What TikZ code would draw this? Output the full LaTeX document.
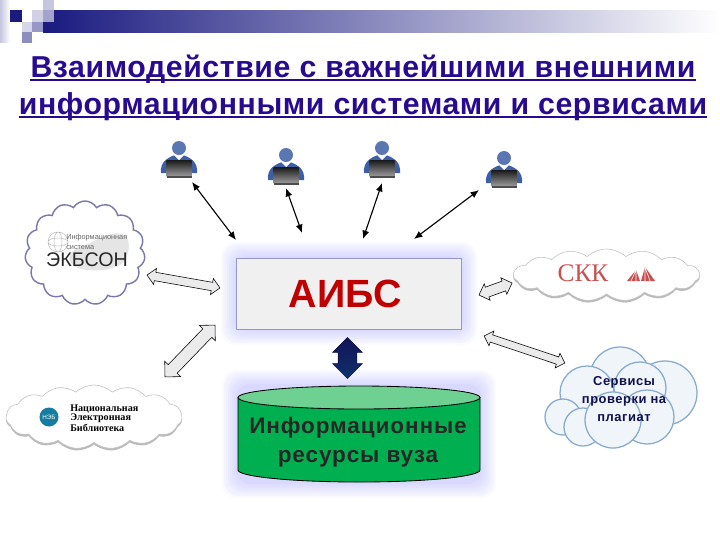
\documentclass[tikz,border=0pt]{standalone}
\usepackage{fontspec}
\setmainfont{Liberation Sans}
\newfontfamily\titlefont[LetterSpace=2]{Liberation Sans}
\newfontfamily\dbfont[LetterSpace=4]{Liberation Sans}
\newfontfamily\skkfont{Liberation Serif}
\usepackage{tikz}
\usetikzlibrary{shapes.geometric,shapes.symbols,shapes.arrows,shadows,arrows.meta,calc,positioning}
\definecolor{navyblue}{RGB}{26,26,128}
\definecolor{titleblue}{RGB}{40,10,145}
\definecolor{aibsred}{RGB}{192,0,0}
\definecolor{skkred}{RGB}{200,80,80}
\definecolor{nebteal}{RGB}{20,125,160}
\definecolor{dbgreen}{RGB}{0,176,80}
\definecolor{dbtop}{RGB}{110,208,145}
\definecolor{boxline}{RGB}{150,150,200}
\definecolor{cloudline}{RGB}{120,120,170}
\definecolor{plagline}{RGB}{135,170,205}
\definecolor{plagfill}{RGB}{240,245,250}
\definecolor{userblue}{RGB}{62,95,165}
\definecolor{glowblue}{RGB}{120,120,255}
\tikzset{
  titletext/.style={font=\titlefont\bfseries\fontsize{21.5}{25}\selectfont,text=titleblue,inner sep=0,anchor=base},
  titlerule/.style={titleblue,line width=1.5pt},
  thinarrow/.style={thick,{Latex[length=6pt,width=5pt]}-{Latex[length=6pt,width=5pt]}},
  blockarrow/.style={shape=double arrow,draw=black,fill=black!8,line width=0.4pt,inner xsep=0,anchor=center},
  whitecloud/.style={shape=cloud,cloud puffs=15,cloud puff arc=85,aspect=2.8,draw=black!25,fill=white,inner sep=0,
    drop shadow={shadow xshift=0pt,shadow yshift=-1.5pt,opacity=.45,fill=black!60}},
  plagcloud/.style={draw=plagline,line width=0.9pt,fill=plagfill},
  pics/user/.style={code={
    \fill[userblue] (-18,25) .. controls (-19,14) and (-12,10) .. (-4,7) -- (4,7) .. controls (12,10) and (19,14) .. (18,25) -- cycle;
    \fill[white] (-5,7) -- (5,7) -- (0,12) -- cycle;
    \fill[userblue!85!white] (0,0) circle (7);
    \shade[top color=black!90,bottom color=black!40] (-12.5,12) rectangle (12.5,28);
    \fill[black!70] (-12.5,28) rectangle (12.5,30);
  }}
}
\begin{document}
\begin{tikzpicture}[x=0.025cm,y=-0.025cm]
  \useasboundingbox (0,0) rectangle (720,540);
  % header bar
  \shade[left color=navyblue,right color=white] (43,10) rectangle (720,32);
  \shade[left color=navyblue!25,right color=white] (0,0) rectangle (10,42);
  \fill[navyblue] (10,10) rectangle (22,22);
  \fill[navyblue!20] (32,10) rectangle (43,22);
  \fill[navyblue!25] (43,0) rectangle (54,10);
  \fill[navyblue!40] (43,10) rectangle (54,22);
  \fill[navyblue!18] (22,22) rectangle (32,32);
  \fill[navyblue!45] (32,22) rectangle (43,32);
  \fill[navyblue!50] (22,32) rectangle (32,43);
  % title
  \node[titletext] (title1) at (363,77) {Взаимодействие с важнейшими внешними};
  \node[titletext] (title2) at (363,114) {информационными системами и сервисами};
  \draw[titlerule] ($(title1.base west)+(0,3)$) -- ($(title1.base east)+(0,3)$);
  \draw[titlerule] ($(title2.base west)+(0,3)$) -- ($(title2.base east)+(0,3)$);
  % users
  \pic at (179,148) {user};
  \pic at (286,155) {user};
  \pic at (382,148) {user};
  \pic at (504,158) {user};
  \coordinate (user1) at (192,182);
  \coordinate (user2) at (286,188);
  \coordinate (user3) at (382,183);
  \coordinate (user4) at (479,190);
  \coordinate (aibs1) at (236,240);
  \coordinate (aibs2) at (302,233);
  \coordinate (aibs3) at (363,239);
  \coordinate (aibs4) at (414,239);
  \draw[thinarrow] (user1) -- (aibs1);
  \draw[thinarrow] (user2) -- (aibs2);
  \draw[thinarrow] (user3) -- (aibs3);
  \draw[thinarrow] (user4) -- (aibs4);
  % glow round the box and the database
  \foreach \g in {16,14,...,2}{
    \fill[glowblue,opacity=.04,rounded corners=10] (237-\g,258-\g) rectangle (461+\g,329+\g);
    \fill[glowblue,opacity=.04,rounded corners=10] (238-\g,386-\g) rectangle (480+\g,482+\g);
  }
  % main box
  \node[draw=boxline,line width=0.7pt,fill=black!6,minimum width=5.6cm,minimum height=1.775cm,inner sep=0,
    font=\bfseries\fontsize{28}{32}\selectfont,text=aibsred] (aibs) at (349,293.5) {\kern-5.6ptАИБС};
  % database
  \draw[fill=dbgreen,line width=0.6pt] (238,397.5) -- (238,470) arc[start angle=180,end angle=0,x radius=121,y radius=12] -- (480,397.5) -- cycle;
  \draw[fill=dbtop,line width=0.6pt] (359,397.5) ellipse [x radius=121,y radius=11.5];
  \node[font=\dbfont\bfseries\fontsize{16}{21}\selectfont,align=center,text=black!85] (dbtext) at (358,442) {Информационные\\ресурсы вуза};
  % clouds
  \node[shape=cloud,cloud puffs=15,cloud puff arc=120,aspect=1.25,draw=cloudline,line width=1pt,fill=white,
    minimum width=3cm,minimum height=2.6cm,inner sep=0] (ekbson) at (85,253) {};
  \fill[black!10] plot[smooth cycle,tension=.8] coordinates {(72,252) (90,243) (112,234) (127,238) (126,258) (112,268) (88,270) (72,264)};
  \draw[black!30,line width=0.3pt] (58,242) circle (10) (58,242) ellipse [x radius=10,y radius=4] (58,242) ellipse [x radius=4,y radius=10];
  \node[inner sep=0,font=\fontsize{5.2}{7}\selectfont,text=black!60,align=left,anchor=west] (ekbsonsub) at (66,242) {Информационная\\система};
  \node[inner sep=0,font=\fontsize{14}{16}\selectfont,text=black!85] (ekbsonname) at (87,260) {ЭКБСОН};
  \node[whitecloud,minimum width=4.4cm,minimum height=1.6cm] (neb) at (94,417) {};
  \node[circle,fill=nebteal,text=white,font=\fontsize{4.5}{5}\selectfont,inner sep=0,minimum size=0.475cm] (neblogo) at (49,417) {НЭБ};
  \node[inner sep=0,font=\skkfont\bfseries\fontsize{7.2}{6.5}\selectfont,align=left,anchor=west,text=black] (nebname) at (70,418) {Национальная\\Электронная\\Библиотека};
  \node[whitecloud,minimum width=4.65cm,minimum height=1.3cm] (skk) at (606.5,275) {};
  \node[inner sep=0,font=\skkfont\fontsize{18}{20}\selectfont,text=skkred] (skkname) at (583,273) {СКК};
  \fill[skkred] (627,281) -- (640,281) -- (636,270) -- cycle (641,281) -- (655,281) -- (645,267) -- cycle;
  \draw[white,line width=0.4pt] (631,281) -- (636,270) (636,281) -- (636,270) (645,281) -- (645,267) (650,281) -- (645,267);
  % plagiarism cloud, from overlapping circles
  \foreach \x/\y/\r in {620/377/30,665/393/32,587/393/27,640/388/26,563/417/18,583/427/19,647/417/27,613/420/28}{
    \draw[plagcloud] (\x,\y) circle (\r);
  }
  \node[inner sep=0,font=\dbfont\bfseries\fontsize{9.2}{12.7}\selectfont,align=center,text=navyblue!60!black] (plagtext) at (624,399) {Сервисы\\проверки на\\плагиат};
  % block arrows
  \node[blockarrow,minimum height=1.85cm,rotate=-10,inner ysep=2.8pt,double arrow head extend=2.8pt] (arrow1) at (183.5,281.5) {};
  \node[blockarrow,minimum height=1.8cm,rotate=46,inner ysep=4.2pt,double arrow head extend=3.5pt] (arrow2) at (190,351) {};
  \node[blockarrow,minimum height=0.88cm,rotate=20,inner ysep=3.5pt,double arrow head extend=2.5pt] (arrow3) at (495.5,289) {};
  \node[blockarrow,minimum height=2.13cm,rotate=-18.5,inner ysep=2.5pt,double arrow head extend=2.8pt] (arrow4) at (524.5,349.5) {};
  \node[shape=double arrow,rotate=90,top color=navyblue!70!black,bottom color=navyblue!80!cyan!70!black,draw=navyblue!50!black,inner xsep=0,inner ysep=6.4pt,
    minimum height=1.02cm,double arrow head extend=3.9pt] (dbarrow) at (347.5,358) {};
\end{tikzpicture}
\end{document}
